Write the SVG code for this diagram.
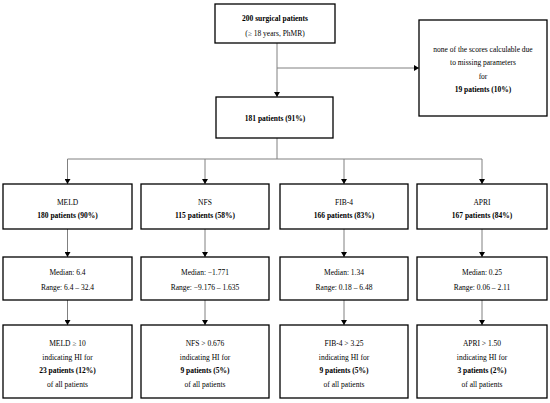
<svg xmlns="http://www.w3.org/2000/svg" width="550" height="403" viewBox="0 0 550 403">
<defs>
<marker id="ah" markerWidth="6" markerHeight="6" refX="5" refY="3" orient="auto" markerUnits="userSpaceOnUse"><path d="M0,0 L5,3 L0,6 Z" fill="#000"/></marker>
<style>
.box{fill:#fff;stroke:#000;stroke-width:1.3}
.t{font-family:"Liberation Serif","Times New Roman",serif;font-size:7.5px;fill:#000;text-anchor:middle}
.b{font-weight:bold}
.c{fill:none;stroke:#808080;stroke-width:1}
.a{marker-end:url(#ah)}
</style>
</defs>
<rect width="550" height="403" fill="#fff"/>
<g id="connectors">
<path class="c a" d="M277,43 V97"/>
<path class="c a" d="M277,68 H419"/>
<path class="c" d="M277,138 V159 M67.5,159 H482"/>
<path class="c a" d="M67.5,159 V184"/>
<path class="c a" d="M205,159 V184"/>
<path class="c a" d="M344,159 V184"/>
<path class="c a" d="M482,159 V184"/>
<path class="c a" d="M67.5,229 V257"/>
<path class="c a" d="M205,229 V257"/>
<path class="c a" d="M344,229 V257"/>
<path class="c a" d="M482,229 V257"/>
<path class="c a" d="M67.5,300 V325"/>
<path class="c a" d="M205,300 V325"/>
<path class="c a" d="M344,300 V325"/>
<path class="c a" d="M482,300 V325"/>
</g>
<g id="n-start"><rect class="box" x="215" y="4" width="120" height="39"/>
<text class="t b" x="275" y="20.5">200 surgical patients</text>
<text class="t" x="275" y="35.5">(≥ 18 years, PhMR)</text></g>
<g id="n-excluded"><rect class="box" x="419" y="20" width="128" height="96"/>
<text class="t" x="483" y="51.5">none of the scores calculable due</text>
<text class="t" x="483" y="65">to missing parameters</text>
<text class="t" x="483" y="78.5">for</text>
<text class="t b" x="483" y="92">19 patients (10%)</text></g>
<g id="n-181"><rect class="box" x="216" y="97" width="117" height="41"/>
<text class="t b" x="275" y="121">181 patients (91%)</text></g>

<g id="n-meld"><rect class="box" x="3" y="184" width="129" height="45"/>
<text class="t" x="67.5" y="204.5">MELD</text>
<text class="t b" x="67.5" y="217.5">180 patients (90%)</text></g>
<g id="n-nfs"><rect class="box" x="141" y="184" width="128" height="45"/>
<text class="t" x="205" y="204.5">NFS</text>
<text class="t b" x="205" y="217.5">115 patients (58%)</text></g>
<g id="n-fib4"><rect class="box" x="280" y="184" width="128" height="45"/>
<text class="t" x="344" y="204.5">FIB-4</text>
<text class="t b" x="344" y="217.5">166 patients (83%)</text></g>
<g id="n-apri"><rect class="box" x="417" y="184" width="130" height="45"/>
<text class="t" x="482" y="204.5">APRI</text>
<text class="t b" x="482" y="217.5">167 patients (84%)</text></g>

<g id="n-meld-stats"><rect class="box" x="3" y="257" width="129" height="43"/>
<text class="t" x="67.5" y="274.5">Median: 6.4</text>
<text class="t" x="67.5" y="289.5">Range: 6.4 – 32.4</text></g>
<g id="n-nfs-stats"><rect class="box" x="141" y="257" width="128" height="43"/>
<text class="t" x="205" y="274.5">Median: −1.771</text>
<text class="t" x="205" y="289.5">Range: −9.176 – 1.635</text></g>
<g id="n-fib4-stats"><rect class="box" x="280" y="257" width="128" height="43"/>
<text class="t" x="344" y="274.5">Median: 1.34</text>
<text class="t" x="344" y="289.5">Range: 0.18 – 6.48</text></g>
<g id="n-apri-stats"><rect class="box" x="417" y="257" width="130" height="43"/>
<text class="t" x="482" y="274.5">Median: 0.25</text>
<text class="t" x="482" y="289.5">Range: 0.06 – 2.11</text></g>

<g id="n-meld-hi"><rect class="box" x="3" y="325" width="129" height="73"/>
<text class="t" x="67.5" y="345.5">MELD ≥ 10</text>
<text class="t" x="67.5" y="359.5">indicating HI for</text>
<text class="t b" x="67.5" y="372.5">23 patients (12%)</text>
<text class="t" x="67.5" y="386.5">of all patients</text></g>
<g id="n-nfs-hi"><rect class="box" x="141" y="325" width="128" height="73"/>
<text class="t" x="205" y="345.5">NFS &gt; 0.676</text>
<text class="t" x="205" y="359.5">indicating HI for</text>
<text class="t b" x="205" y="372.5">9 patients (5%)</text>
<text class="t" x="205" y="386.5">of all patients</text></g>
<g id="n-fib4-hi"><rect class="box" x="280" y="325" width="128" height="73"/>
<text class="t" x="344" y="345.5">FIB-4 &gt; 3.25</text>
<text class="t" x="344" y="359.5">indicating HI for</text>
<text class="t b" x="344" y="372.5">9 patients (5%)</text>
<text class="t" x="344" y="386.5">of all patients</text></g>
<g id="n-apri-hi"><rect class="box" x="417" y="325" width="130" height="73"/>
<text class="t" x="482" y="345.5">APRI &gt; 1.50</text>
<text class="t" x="482" y="359.5">indicating HI for</text>
<text class="t b" x="482" y="372.5">3 patients (2%)</text>
<text class="t" x="482" y="386.5">of all patients</text></g>
</svg>
